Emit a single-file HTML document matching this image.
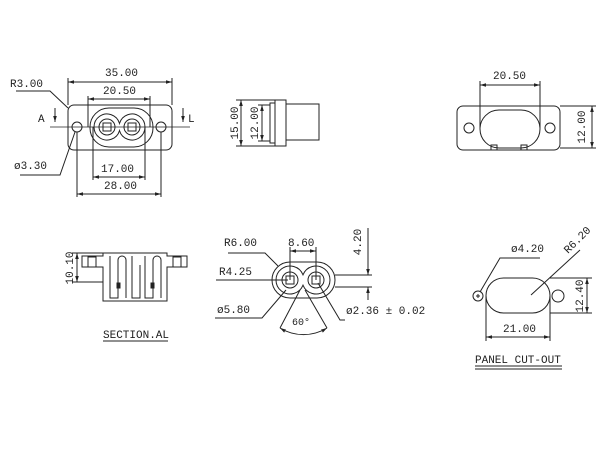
<!DOCTYPE html>
<html><head><style>
body{margin:0;background:#fff}
svg{display:block}
text{font-family:"Liberation Mono",monospace;font-size:11px;fill:#222}
</style></head><body>
<svg width="600" height="450" viewBox="0 0 600 450" xmlns="http://www.w3.org/2000/svg">
<defs>
<marker id="a" viewBox="0 0 10 10" refX="10" refY="5" markerWidth="6" markerHeight="6" orient="auto-start-reverse"><path d="M0,2 L10,5 L0,8 z" fill="#222"/></marker>
</defs>
<g stroke="#222" stroke-width="1" fill="none">
<!-- top-left front view -->
<rect x="68" y="105" width="104" height="45" rx="6"/>
<rect x="90" y="108" width="63" height="39" rx="19"/>
<path d="M119.5,123.4 A13,13 0 1,0 119.5,130.6 A13,13 0 1,0 119.5,123.4 Z"/>
<circle cx="107" cy="127" r="8"/><circle cx="132" cy="127" r="8"/>
<rect x="103" y="123" width="8" height="8"/><rect x="128" y="123" width="8" height="8"/>
<circle cx="77" cy="127" r="5"/><circle cx="161" cy="127" r="5"/>
<line x1="50" y1="127" x2="190" y2="127" stroke-width="0.7"/>
<line x1="68" y1="78" x2="68" y2="105"/><line x1="172" y1="78" x2="172" y2="105"/>
<line x1="68" y1="82" x2="172" y2="82" marker-start="url(#a)" marker-end="url(#a)"/>
<line x1="88" y1="96" x2="88" y2="127"/><line x1="150" y1="96" x2="150" y2="127"/>
<line x1="88" y1="99" x2="150" y2="99" marker-start="url(#a)" marker-end="url(#a)"/>
<line x1="93" y1="127" x2="93" y2="180"/><line x1="145" y1="127" x2="145" y2="180"/>
<line x1="93" y1="177" x2="145" y2="177" marker-start="url(#a)" marker-end="url(#a)"/>
<line x1="77" y1="132" x2="77" y2="197"/><line x1="161" y1="132" x2="161" y2="197"/>
<line x1="77" y1="194" x2="161" y2="194" marker-start="url(#a)" marker-end="url(#a)"/>
<polyline points="16,91 50,91 68,108"/>
<polyline points="20,175 60,175 75,132"/>
<line x1="55" y1="108" x2="55" y2="122" marker-end="url(#a)"/>
<line x1="183" y1="108" x2="183" y2="122" marker-end="url(#a)"/>
<!-- side view -->
<rect x="270" y="103" width="5" height="40"/>
<rect x="275" y="100" width="11" height="46"/>
<rect x="286" y="104" width="33" height="36"/>
<line x1="236" y1="100" x2="275" y2="100"/><line x1="236" y1="146" x2="275" y2="146"/>
<line x1="241" y1="100" x2="241" y2="146" marker-start="url(#a)" marker-end="url(#a)"/>
<line x1="258" y1="105" x2="270" y2="105"/><line x1="258" y1="141" x2="270" y2="141"/>
<line x1="262" y1="105" x2="262" y2="141" marker-start="url(#a)" marker-end="url(#a)"/>
<!-- top right -->
<rect x="457" y="106" width="103" height="44" rx="6"/>
<rect x="480" y="110" width="60" height="38" rx="19"/>
<circle cx="469" cy="128" r="5"/><circle cx="550" cy="128" r="5"/>
<rect x="491" y="145" width="6" height="5"/><rect x="521" y="145" width="6" height="5"/>
<line x1="480" y1="81" x2="480" y2="128"/><line x1="540" y1="81" x2="540" y2="128"/>
<line x1="480" y1="85" x2="540" y2="85" marker-start="url(#a)" marker-end="url(#a)"/>
<line x1="560" y1="106" x2="596" y2="106"/><line x1="560" y1="148" x2="596" y2="148"/>
<line x1="592" y1="106" x2="592" y2="148" marker-start="url(#a)" marker-end="url(#a)"/>
<!-- section -->
<path d="M103,253 H167 V256 H187 V267 H167 V301 H103 V267 H82 V256 H103 Z"/>
<rect x="88" y="257" width="8" height="10"/><rect x="173" y="257" width="8" height="10"/>
<path d="M110,256 V298 H118 V260 A4,4 0 0,1 126,260 V298"/>
<path d="M132,256 V298 H140 V265"/>
<path d="M145,256 V298 H153 V260 A4,4 0 0,1 161,260 V298"/>
<rect x="117" y="283" width="3" height="5" fill="#222"/><rect x="151" y="283" width="3" height="5" fill="#222"/>
<line x1="72" y1="253" x2="103" y2="253"/><line x1="72" y1="282" x2="103" y2="282"/>
<line x1="77" y1="253" x2="77" y2="282" marker-start="url(#a)" marker-end="url(#a)"/>
<line x1="103" y1="341" x2="168" y2="341"/>
<!-- middle bottom -->
<rect x="272" y="262" width="63" height="36" rx="18"/>
<path d="M303,274.8 A14,14 0 1,0 303,285.2 A14,14 0 1,0 303,274.8 Z"/>
<circle cx="290" cy="280" r="8"/><circle cx="316" cy="280" r="8"/>
<rect x="286" y="276" width="8" height="8"/><rect x="312" y="276" width="8" height="8"/>
<line x1="290" y1="247" x2="290" y2="280"/><line x1="316" y1="247" x2="316" y2="280"/>
<line x1="290" y1="251" x2="316" y2="251" marker-start="url(#a)" marker-end="url(#a)"/>
<line x1="335" y1="275" x2="372" y2="275"/><line x1="335" y1="287" x2="372" y2="287"/>
<line x1="368" y1="228" x2="368" y2="275" marker-end="url(#a)"/>
<line x1="368" y1="300" x2="368" y2="287" marker-end="url(#a)"/>
<polyline points="228,253 265,253 278,266"/>
<line x1="216" y1="280" x2="288" y2="280"/>
<polyline points="215,318 262,318 286,290"/>
<polyline points="345,320 340,320 318,283"/>
<line x1="300" y1="290" x2="280" y2="328"/><line x1="305" y1="290" x2="327" y2="328"/>
<path d="M280,328 A45,45 0 0,0 327,328" marker-start="url(#a)" marker-end="url(#a)"/>
<!-- panel cutout -->
<rect x="486" y="278" width="64" height="35" rx="17.5"/>
<circle cx="478" cy="296" r="5"/><circle cx="558" cy="296" r="6"/>
<line x1="476" y1="296" x2="480" y2="296"/><line x1="478" y1="294" x2="478" y2="298"/>
<line x1="550" y1="278" x2="592" y2="278"/><line x1="550" y1="313" x2="592" y2="313"/>
<line x1="587" y1="278" x2="587" y2="313" marker-start="url(#a)" marker-end="url(#a)"/>
<line x1="486" y1="296" x2="486" y2="341"/><line x1="550" y1="296" x2="550" y2="341"/>
<line x1="486" y1="337" x2="550" y2="337" marker-start="url(#a)" marker-end="url(#a)"/>
<polyline points="540,258 500,258 480,292"/>
<line x1="580" y1="250" x2="531" y2="295"/>
<line x1="475" y1="366" x2="562" y2="366"/><line x1="475" y1="369" x2="562" y2="369"/>
</g>
<text x="105" y="76">35.00</text>
<text x="103" y="94">20.50</text>
<text x="101" y="172">17.00</text>
<text x="104" y="189">28.00</text>
<text x="10" y="87">R3.00</text>
<text x="14" y="169">ø3.30</text>
<text x="38" y="122">A</text>
<text x="188" y="122">L</text>
<text transform="translate(238,123) rotate(-90)" text-anchor="middle">15.00</text>
<text transform="translate(258,123) rotate(-90)" text-anchor="middle">12.00</text>
<text x="493" y="79">20.50</text>
<text transform="translate(585,127) rotate(-90)" text-anchor="middle">12.00</text>
<text transform="translate(73,268) rotate(-90)" text-anchor="middle">10.10</text>
<text x="103" y="338">SECTION.AL</text>
<text x="224" y="246">R6.00</text>
<text x="288" y="246">8.60</text>
<text transform="translate(361,242) rotate(-90)" text-anchor="middle">4.20</text>
<text x="219" y="275">R4.25</text>
<text x="217" y="313">ø5.80</text>
<text x="346" y="314">ø2.36 ± 0.02</text>
<text x="292" y="325" style="font-size:10px">60°</text>
<text x="511" y="252">ø4.20</text>
<text transform="translate(568,254) rotate(-45)">R6.20</text>
<text transform="translate(583,296) rotate(-90)" text-anchor="middle">12.40</text>
<text x="503" y="332">21.00</text>
<text x="475" y="363">PANEL CUT-OUT</text>
</svg>
</body></html>
